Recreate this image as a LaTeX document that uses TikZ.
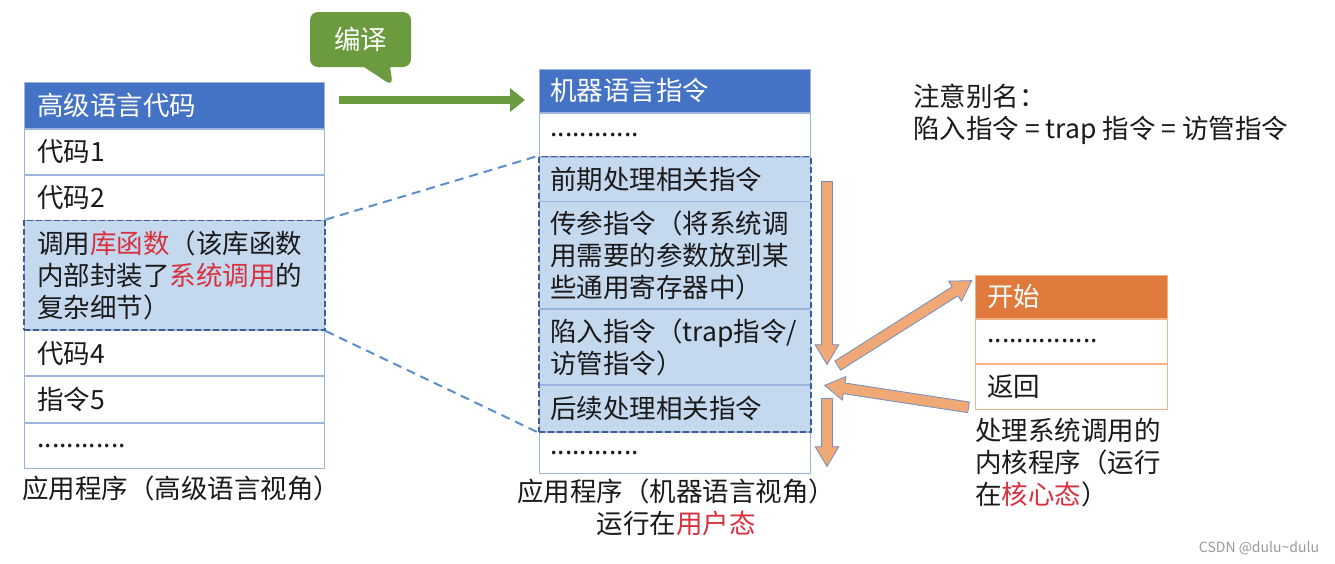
\documentclass[tikz,border=0pt]{standalone}
\usepackage{fontspec}
\setmainfont{Noto Sans CJK SC}
\usetikzlibrary{arrows.meta,shapes.arrows,shapes.callouts,calc,fit}
\definecolor{hdrblue}{HTML}{4472C4}
\definecolor{tblline}{HTML}{9DB5DE}
\definecolor{hlfillc}{HTML}{C5D9EE}
\definecolor{hldash}{HTML}{3B5E95}
\definecolor{conndash}{HTML}{5B8FCB}
\definecolor{redtxt}{HTML}{D8303F}
\definecolor{hdrorange}{HTML}{E07A3C}
\definecolor{orline}{HTML}{F4B183}
\definecolor{arrfill}{HTML}{F0A877}
\definecolor{arrline}{HTML}{6F8FBF}
\definecolor{greenc}{HTML}{6B9A3F}
\definecolor{txt}{HTML}{1A1A1A}
\newcommand\redt[1]{\textcolor{redtxt}{#1}}
\newcommand\orarrow[3]{\path let \p1=(#2), \p2=(#3), \n1={atan2(\y2-\y1,\x2-\x1)}, \n2={veclen(\x2-\x1,\y2-\y1)} in node[barrow, minimum height=\n2, rotate=\n1] (#1) at ($(#2)!0.5!(#3)$) {};}
\begin{document}
\begin{tikzpicture}[x=1pt,y=-1pt,
  every node/.style={font=\fontsize{26.5}{32}\selectfont, text=txt},
  cell/.style={draw=tblline, line width=0.8pt, anchor=north west, inner ysep=0pt, align=left},
  cellL/.style={cell, inner xsep=13pt, minimum width=300pt, text width=274pt},
  cellM/.style={cell, inner xsep=11pt, minimum width=271pt, text width=249pt},
  cellR/.style={cell, draw=orline, inner xsep=12pt, minimum width=192pt, text width=168pt},
  hdrB/.style={fill=hdrblue, text=white},
  hdrO/.style={fill=hdrorange, text=white},
  hlrow/.style={fill=hlfillc},
  hlbox/.style={draw=hldash, dash pattern=on 6pt off 3pt, line width=1.5pt, inner sep=0pt},
  connline/.style={draw=conndash, dash pattern=on 9pt off 6pt, line width=2pt},
  garrow/.style={draw=greenc, line width=8pt, -{Triangle[length=15pt,width=23pt]}},
  barrow/.style={single arrow, fill=arrfill, draw=arrline, line width=0.8pt, inner xsep=0pt, inner ysep=5pt, minimum width=0pt, single arrow head extend=6.5pt, single arrow tip angle=62, anchor=center},
  caption/.style={align=left}
]
\useasboundingbox[fill=white] (0,0) rectangle (1335,563);

% left table
\node[cellL, hdrB, minimum height=46pt] (l0) at (24,82) {高级语言代码};
\node[cellL, minimum height=45pt] (l1) at (l0.south west) {代码1};
\node[cellL, minimum height=45pt] (l2) at (l1.south west) {代码2};
\node[cellL, hlrow, minimum height=109pt] (l3) at (l2.south west) {调用\redt{库函数}（该库函数\\内部封装了\redt{系统调用}的\\复杂细节）};
\node[cellL, minimum height=45pt] (l4) at (l3.south west) {代码4};
\node[cellL, minimum height=46pt] (l5) at (l4.south west) {指令5};
\node[cellL, minimum height=45pt] (l6) at (l5.south west) {............};
\node[hlbox, fit=(l3)] (lhl) {};
\node[caption, anchor=west, inner sep=0pt] (lcap) at (22,488) {应用程序（高级语言视角）};

% middle table
\node[cellM, hdrB, minimum height=43pt] (m0) at (539,69) {机器语言指令};
\node[cellM, minimum height=43pt] (m1) at (m0.south west) {............};
\node[cellM, hlrow, minimum height=44pt] (m2) at (m1.south west) {前期处理相关指令};
\node[cellM, hlrow, minimum height=107pt] (m3) at (m2.south west) {传参指令（将系统调\\用需要的参数放到某\\些通用寄存器中）};
\node[cellM, hlrow, minimum height=75pt] (m4) at (m3.south west) {陷入指令（trap指令/\\访管指令）};
\node[cellM, hlrow, minimum height=46pt] (m5) at (m4.south west) {后续处理相关指令};
\node[cellM, minimum height=41pt] (m6) at (m5.south west) {............};
\node[hlbox, fit=(m2)(m5)] (mhl) {};
\node[align=center, inner sep=0pt] (mcap) at (676,507) {应用程序（机器语言视角）\\运行在\redt{用户态}};

% right table
\node[cellR, hdrO, minimum height=43pt] (r0) at (975,275) {开始};
\node[cellR, minimum height=44pt] (r1) at (r0.south west) {...............};
\node[cellR, minimum height=45pt] (r2) at (r1.south west) {返回};
\node[caption, anchor=north west, inner sep=0pt] (rcap) at (975,418) {处理系统调用的\\内核程序（运行\\在\redt{核心态}）};

% note
\node[caption, anchor=north west, inner sep=0pt] (note) at (913,84) {注意别名：\\陷入指令 = trap 指令 = 访管指令};

% compile callout and arrow
\node[rectangle callout, fill=greenc, rounded corners=8pt, minimum width=101pt, minimum height=55pt, callout absolute pointer={(393,86)}, callout pointer width=26pt, inner sep=0pt, text=white] (bianyi) at (360.5,39.5) {编译};
\coordinate (ga1) at (339,100);
\coordinate (ga2) at (525,100);
\draw[garrow] (ga1) -- (ga2);

% dashed zoom connectors
\draw[connline] (lhl.north east) -- (mhl.north west);
\draw[connline] (lhl.south east) -- (mhl.south west);

% orange block arrows
\coordinate (d1s) at (827,177);
\coordinate (d1e) at (827,360);
\coordinate (u1s) at (834,368);
\coordinate (u1e) at (968,283);
\coordinate (b1s) at (973,408);
\coordinate (b1e) at (829,386);
\coordinate (d2s) at (827,394);
\coordinate (d2e) at (827,462);
\orarrow{oa1}{d1s}{d1e}
\orarrow{oa2}{u1s}{u1e}
\orarrow{oa3}{b1s}{b1e}
\orarrow{oa4}{d2s}{d2e}

% watermark
\node[font=\fontsize{14}{16}\selectfont, text=black!40, inner sep=0pt] (wm) at (1259,548) {CSDN @dulu\textasciitilde dulu};
\end{tikzpicture}
\end{document}
